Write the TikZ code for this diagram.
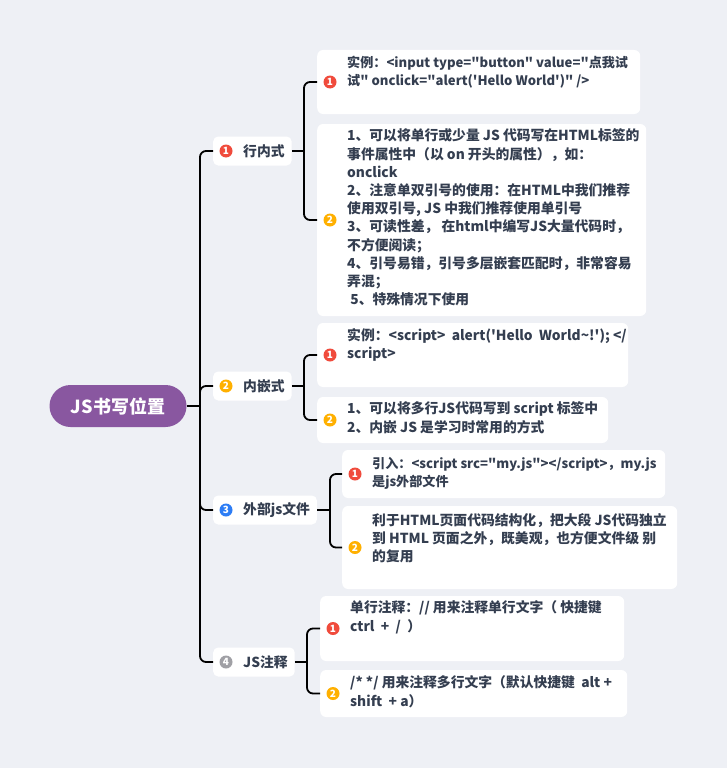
\documentclass[tikz,border=0pt]{standalone}
\usepackage{fontspec}
\setmainfont{Noto Sans CJK SC}
\usetikzlibrary{positioning,calc}
\definecolor{pagebg}{RGB}{238,240,245}
\definecolor{rootpurple}{RGB}{137,87,160}
\definecolor{ink}{RGB}{52,62,80}
\definecolor{badgered}{RGB}{240,75,60}
\definecolor{badgeorange}{RGB}{255,176,0}
\definecolor{badgeblue}{RGB}{45,125,245}
\definecolor{badgegray}{RGB}{160,160,165}
\newcommand{\sq}{\textquotesingle}
\newcommand{\dq}{\textquotedbl}

\begin{document}
\begin{tikzpicture}[x=1pt,y=-1pt,
  conn/.style={draw=black,line width=1.8pt,rounded corners=6pt},
  root/.style={fill=rootpurple,rounded corners=21pt,minimum width=137pt,
    minimum height=42pt,text=white,font=\bfseries\fontsize{18}{20}\selectfont},
  topic/.style={fill=white,rounded corners=5pt,minimum height=29pt,anchor=west,
    inner xsep=7pt,text=ink,font=\bfseries\fontsize{13.8}{15}\selectfont},
  leaf/.style={fill=white,rounded corners=6pt,anchor=west,inner sep=0pt},
  note/.style={anchor=north west,inner sep=0pt,align=left,text=ink,
    font=\bfseries\fontsize{13.8}{18.2}\selectfont},
  tight/.style={font=\bfseries\fontsize{13.1}{18.2}\selectfont},
  badge/.style={circle,fill=#1,minimum size=13pt,inner sep=0pt,text=white,
    font=\bfseries\fontsize{10}{10}\selectfont}
]

% Background
\fill[pagebg] (0,0) rectangle (727,768);
\useasboundingbox (0,0) rectangle (727,768);

% Root
\node[root] (root) at (118,406) {JS书写位置};
\coordinate (trunk) at (200,406);

% First level
\node[topic] (t1) at (213,151) {\hspace*{23pt}行内式};
\node[topic] (t2) at (213,386) {\hspace*{23pt}内嵌式};
\node[topic] (t3) at (213,510) {\hspace*{23pt}外部js文件};
\node[topic] (t4) at (213,662) {\hspace*{23pt}JS注释};

\node[badge=badgered]    (b1) at ($(t1.west)+(13,0)$) {1};
\node[badge=badgeorange] (b2) at ($(t2.west)+(13,0)$) {2};
\node[badge=badgeblue]   (b3) at ($(t3.west)+(13,0)$) {3};
\node[badge=badgegray]   (b4) at ($(t4.west)+(13,0)$) {4};

\draw[conn] (root.east) -- (trunk);
\foreach \t in {t1,t2,t3,t4}
  \draw[conn] (trunk) |- (\t.west);

% Second level boxes
\node[leaf,minimum width=323pt,minimum height=64pt]  (l11) at (317,82) {};
\node[leaf,minimum width=329pt,minimum height=192pt] (l12) at (317,220) {};
\node[leaf,minimum width=311pt,minimum height=64pt]  (l21) at (317,355) {};
\node[leaf,minimum width=291pt,minimum height=46pt]  (l22) at (317,420) {};
\node[leaf,minimum width=323pt,minimum height=48pt]  (l31) at (342,474) {};
\node[leaf,minimum width=335pt,minimum height=83pt]  (l32) at (342,547.5) {};
\node[leaf,minimum width=304pt,minimum height=65pt]  (l41) at (320,628.5) {};
\node[leaf,minimum width=307pt,minimum height=47pt]  (l42) at (320,693.5) {};

% Badges of the boxes
\foreach \l/\c/\n in {l11/badgered/1,l12/badgeorange/2,l21/badgered/1,
    l22/badgeorange/2,l31/badgered/1,l32/badgeorange/2,l41/badgered/1,
    l42/badgeorange/2}
  \node[badge=\c] (b\l) at ($(\l.west)+(13,0)$) {\n};

% Texts
\node[note,tight] (x11) at ($(l11.north west)+(30,6)$)
  {实例：<input type=\dq button\dq{} value=\dq 点我试\\试\dq{} onclick=\dq alert(\sq Hello World\sq)\dq{} />};
\node[note] (x12) at ($(l12.north west)+(30,5)$)
  {1、可以将单行或少量 JS 代码写在HTML标签的\\
   事件属性中（以 on 开头的属性），如：\\
   onclick\\
   2、注意单双引号的使用：在HTML中我们推荐\\
   使用双引号, JS 中我们推荐使用单引号\\
   3、可读性差， 在html中编写JS大量代码时，\\
   不方便阅读；\\
   4、引号易错，引号多层嵌套匹配时，非常容易\\
   弄混；\\
   \ 5、特殊情况下使用};
\node[note] (x21) at ($(l21.north west)+(30,5)$)
  {实例：<script> \ alert(\sq Hello \ World\textasciitilde!\sq); </\\script>};
\node[note] (x22) at ($(l22.north west)+(30,5)$)
  {1、可以将多行JS代码写到 script 标签中\\2、内嵌 JS 是学习时常用的方式};
\node[note,tight] (x31) at ($(l31.north west)+(30,7)$)
  {引入：<script src=\dq my.js\dq></script>，my.js\\是js外部文件};
\node[note] (x32) at ($(l32.north west)+(30,7)$)
  {利于HTML页面代码结构化，把大段 JS代码独立\\到 HTML 页面之外，既美观，也方便文件级 别\\的复用};
\node[note] (x41) at ($(l41.north west)+(30,5)$)
  {单行注释：// 用来注释单行文字（ 快捷键\\ctrl \ + \ / \ ）};
\node[note] (x42) at ($(l42.north west)+(30,6)$)
  {/* */ 用来注释多行文字（默认快捷键 \ alt +\\shift \ + a）};

% Second level connectors
\coordinate (j1) at (304,151);
\coordinate (j2) at (304,386);
\coordinate (j3) at (330,510);
\coordinate (j4) at (307,662);
\draw[conn] (t1.east) -- (j1);
\draw[conn] (t2.east) -- (j2);
\draw[conn] (t3.east) -- (j3);
\draw[conn] (t4.east) -- (j4);
\draw[conn] (j1) |- (l11.west);
\draw[conn] (j1) |- (l12.west);
\draw[conn] (j2) |- (l21.west);
\draw[conn] (j2) |- (l22.west);
\draw[conn] (j3) |- (l31.west);
\draw[conn] (j3) |- (l32.west);
\draw[conn] (j4) |- (l41.west);
\draw[conn] (j4) |- (l42.west);

\end{tikzpicture}
\end{document}
